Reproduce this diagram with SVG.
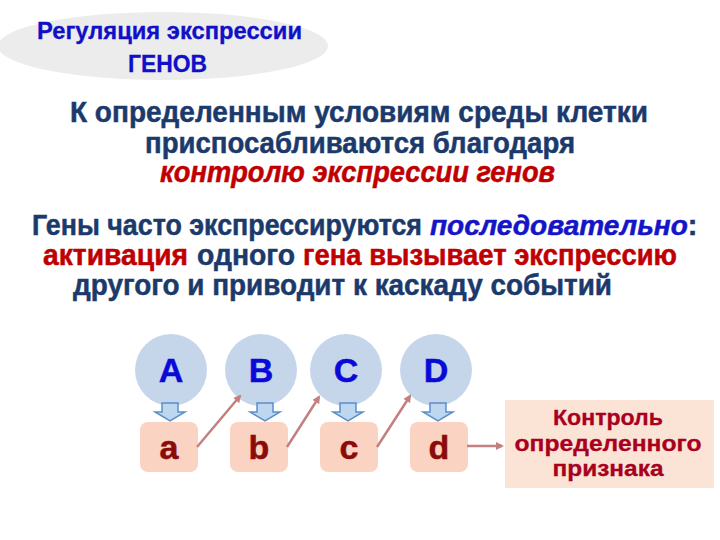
<svg xmlns="http://www.w3.org/2000/svg" width="720" height="540" viewBox="0 0 720 540">
<defs>
<style>
.t{font-family:"Liberation Sans",Arial,sans-serif;font-weight:bold}
.nv{fill:#1B3A6B;stroke:#1B3A6B;stroke-width:0.5}
.rd{fill:#C00000;stroke:#C00000;stroke-width:0.5}
.bl{fill:#1414C8;stroke:#1414C8;stroke-width:0.5}
.it{font-style:italic}
.circ{fill:#C6D6EA}
.box{fill:#FAD3C2}
.big{font-size:34px;text-anchor:middle}
.cap{fill:#0A0AD8;stroke:#0A0AD8;stroke-width:0.5}
.low{fill:#8B0A0A;stroke:#8B0A0A;stroke-width:0.5}
.down{fill:#BDD7EE;stroke:#5B8FCB;stroke-width:1.5}
.con{stroke:#C4807F;stroke-width:2.5;fill:none}
</style>
<marker id="ah" markerWidth="8" markerHeight="8" refX="6" refY="4" orient="auto" markerUnits="userSpaceOnUse">
<path d="M0,0 L8,4 L0,8 Z" fill="#C4807F"/>
</marker>
</defs>
<rect width="720" height="540" fill="#FFFFFF"/>

<g id="title">
<ellipse cx="163" cy="46" rx="165" ry="34" fill="#ECECEC"/>
<text class="t" x="37" y="39" font-size="23" fill="#1010C8" stroke="#1010C8" stroke-width="0.3" textLength="265" lengthAdjust="spacingAndGlyphs">Регуляция экспрессии</text>
<text class="t" x="128" y="72" font-size="23" fill="#1010C8" stroke="#1010C8" stroke-width="0.3" textLength="79" lengthAdjust="spacingAndGlyphs">ГЕНОВ</text>
</g>

<g id="para1">
<text class="t nv" x="70" y="122" font-size="29" textLength="578" lengthAdjust="spacingAndGlyphs">К определенным условиям среды клетки</text>
<text class="t nv" x="145" y="153" font-size="29" textLength="430" lengthAdjust="spacingAndGlyphs">приспосабливаются благодаря</text>
<text class="t rd it" x="160" y="182" font-size="29" textLength="395" lengthAdjust="spacingAndGlyphs">контролю экспрессии генов</text>
</g>

<g id="para2">
<text class="t" font-size="29" y="235"><tspan class="nv" x="32" textLength="390" lengthAdjust="spacingAndGlyphs">Гены часто экспрессируются</tspan><tspan class="bl it" x="430" font-size="28">последовательно</tspan><tspan class="nv">:</tspan></text>
<text class="t" font-size="29" y="265"><tspan class="rd" x="43" textLength="145" lengthAdjust="spacingAndGlyphs">активация</tspan><tspan class="nv" x="197" textLength="98" lengthAdjust="spacingAndGlyphs">одного</tspan><tspan class="rd" x="303" textLength="374" lengthAdjust="spacingAndGlyphs">гена вызывает экспрессию</tspan></text>
<text class="t nv" x="73" y="295" font-size="29" textLength="539" lengthAdjust="spacingAndGlyphs">другого и приводит к каскаду событий</text>
</g>

<g id="nodeA"><circle class="circ" cx="171" cy="370" r="36"/><text class="t big cap" x="171" y="382">A</text></g>
<g id="nodeB"><circle class="circ" cx="261" cy="370" r="36"/><text class="t big cap" x="261" y="382">B</text></g>
<g id="nodeC"><circle class="circ" cx="346" cy="370" r="36"/><text class="t big cap" x="346" y="382">C</text></g>
<g id="nodeD"><circle class="circ" cx="436" cy="370" r="36"/><text class="t big cap" x="436" y="382">D</text></g>

<g id="node_a"><rect class="box" x="140" y="422" width="58" height="50" rx="8"/><text class="t big low" x="169" y="459">a</text></g>
<g id="node_b"><rect class="box" x="230" y="422" width="58" height="50" rx="8"/><text class="t big low" x="259" y="459">b</text></g>
<g id="node_c"><rect class="box" x="320" y="422" width="58" height="50" rx="8"/><text class="t big low" x="349" y="459">c</text></g>
<g id="node_d"><rect class="box" x="410" y="422" width="58" height="50" rx="8"/><text class="t big low" x="439" y="459">d</text></g>

<g id="result">
<rect x="505" y="400" width="209" height="88" fill="#FBE3D5"/>
<g class="t" font-size="22" fill="#A8001E" stroke="#A8001E" stroke-width="0.3" text-anchor="middle">
<text x="608" y="425" textLength="110" lengthAdjust="spacingAndGlyphs">Контроль</text>
<text x="608" y="451" textLength="187" lengthAdjust="spacingAndGlyphs">определенного</text>
<text x="608" y="476" textLength="111" lengthAdjust="spacingAndGlyphs">признака</text>
</g>
</g>

<g id="connectors">
<path class="down" d="M162,403 H178 V412 H185 L170,421 L155,412 H162 Z"/>
<path class="down" d="M257,403 H273 V412 H280 L265,421 L250,412 H257 Z"/>
<path class="down" d="M340,403 H356 V412 H363 L348,421 L333,412 H340 Z"/>
<path class="down" d="M430,403 H446 V412 H453 L438,421 L423,412 H430 Z"/>
<line class="con" x1="197" y1="447" x2="240" y2="396" marker-end="url(#ah)"/>
<line class="con" x1="287" y1="447" x2="319" y2="397" marker-end="url(#ah)"/>
<line class="con" x1="377" y1="447" x2="410" y2="396" marker-end="url(#ah)"/>
<line class="con" x1="467" y1="446" x2="502" y2="446" marker-end="url(#ah)"/>
</g>
</svg>
